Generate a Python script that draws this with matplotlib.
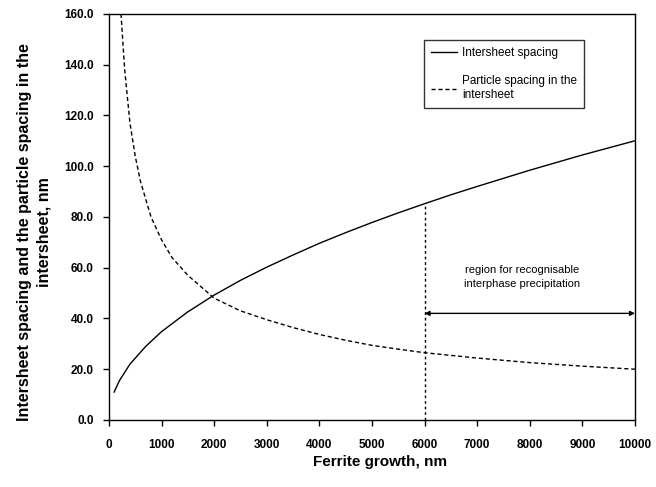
import matplotlib
matplotlib.use("Agg")
import matplotlib.pyplot as plt

plt.rcParams['font.family'] = ['Liberation Sans', 'DejaVu Sans']

# Intersheet spacing (solid)
growth_inter = [100, 200, 400, 700, 1000, 1500, 2000, 2500, 3000, 3500, 4000,
                4500, 5000, 5500, 6000, 6500, 7000, 7500, 8000, 8500, 9000,
                9500, 10000]
inter_spacing = [11.0, 15.5, 22.0, 29.0, 34.8, 42.6, 49.2, 55.0, 60.2, 65.0,
                 69.6, 73.8, 77.8, 81.6, 85.2, 88.7, 92.0, 95.2, 98.4, 101.4,
                 104.4, 107.2, 110.0]

# Particle spacing in the intersheet (dashed)
growth_part = [230, 300, 400, 500, 600, 800, 1000, 1200, 1500, 2000, 2500,
               3000, 3500, 4000, 4500, 5000, 5500, 6000, 7000, 8000, 9000, 10000]
part_spacing = [160.0, 138.0, 117.0, 104.0, 94.0, 80.0, 71.0, 64.0, 57.0,
                48.0, 43.0, 39.5, 36.4, 33.7, 31.4, 29.4, 27.9, 26.5, 24.4,
                22.6, 21.2, 20.0]

x_ticks = [0, 1000, 2000, 3000, 4000, 5000, 6000, 7000, 8000, 9000, 10000]
y_ticks = [0, 20, 40, 60, 80, 100, 120, 140, 160]

fig = plt.figure(figsize=(6.56, 4.87), dpi=100)
ax = fig.add_axes([0.166, 0.1376, 0.802, 0.834])

ax.plot(growth_inter, inter_spacing, color='black', lw=1.0, ls='-',
        label='Intersheet spacing')
ax.plot(growth_part, part_spacing, color='black', lw=1.0, ls=(0, (3, 2)),
        label='Particle spacing in the\nintersheet')

# vertical dashed marker at 6000 up to the intersheet curve
ax.plot([6000, 6000], [0, 85.2], color='black', lw=1.0, ls=(0, (2, 2)))

# double-headed arrow 6000 -> 10000
ax.annotate('', xy=(10000, 42), xytext=(6000, 42),
            arrowprops=dict(arrowstyle='<|-|>', color='black', lw=1.0,
                            mutation_scale=7, shrinkA=0, shrinkB=0))
ax.text(7850, 56.5, 'region for recognisable\ninterphase precipitation',
        ha='center', va='center', fontsize=8, linespacing=1.5)

ax.set_xlim(0, 10000)
ax.set_ylim(0, 160)
ax.set_xticks(x_ticks)
ax.set_yticks(y_ticks)
ax.set_xticklabels([str(v) for v in x_ticks], fontsize=8.5, fontweight='bold')
ax.set_yticklabels([f'{v:.1f}' for v in y_ticks], fontsize=8.5, fontweight='bold')
ax.tick_params(direction='out', length=4, width=1, colors='black', pad=7)
ax.tick_params(axis='x', pad=10)
for s in ax.spines.values():
    s.set_linewidth(1.0)
    s.set_color('black')

ax.set_xlabel('Ferrite growth, nm', fontsize=11, fontweight='bold')
ax.xaxis.set_label_coords(0.515, -0.086)
ax.set_ylabel('Intersheet spacing and the particle spacing in the\nintersheet, nm',
              fontsize=11.5, fontweight='bold', linespacing=1.35)
ax.yaxis.set_label_coords(-0.110, 0.462)

leg = ax.legend(loc='upper left', bbox_to_anchor=(0.599, 0.936), fontsize=8.5,
                frameon=True, fancybox=False, edgecolor='black',
                handlelength=2.2, labelspacing=1.4, borderpad=0.6,
                handletextpad=0.4, borderaxespad=0)
leg.get_frame().set_linewidth(1.0)

fig.savefig('out.png', dpi=100)
